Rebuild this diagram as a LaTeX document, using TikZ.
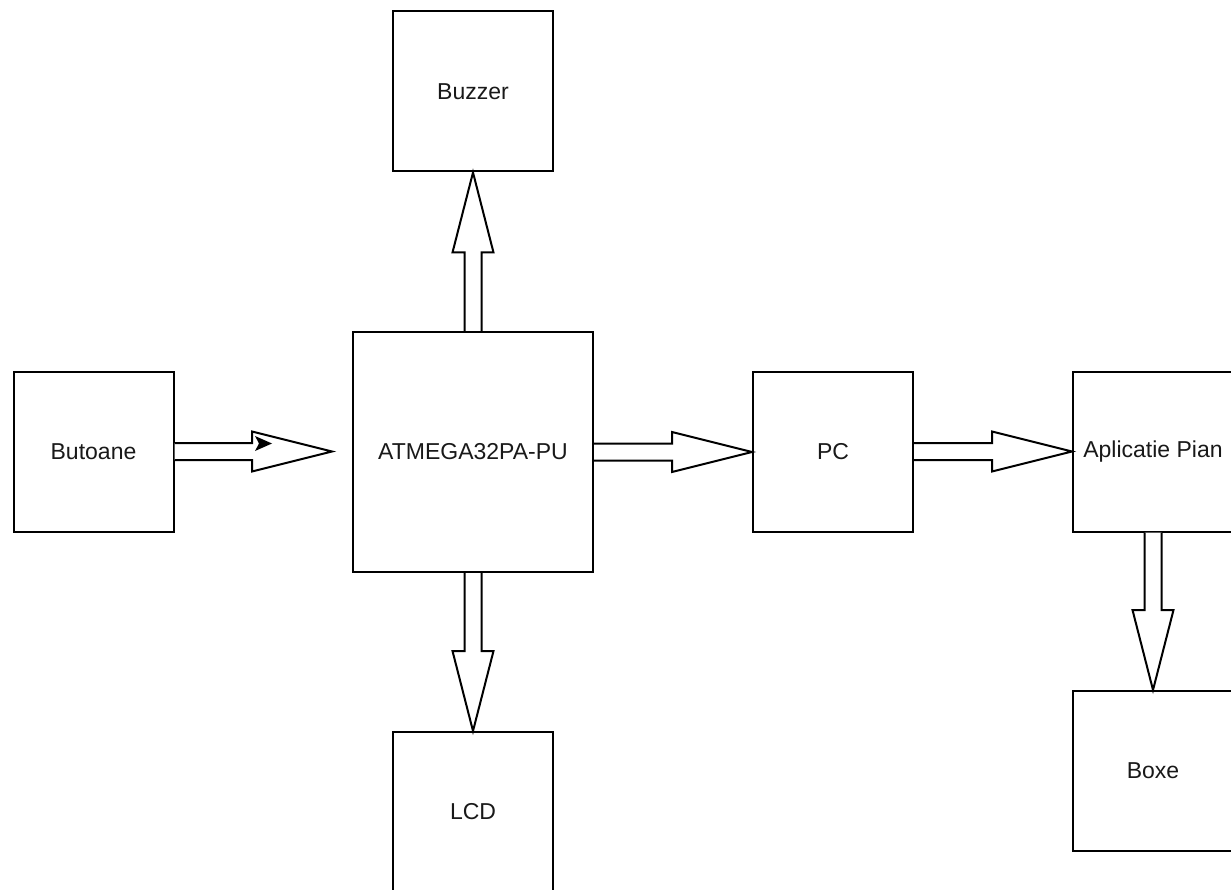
\documentclass[tikz,border=0pt]{standalone}
\usepackage{fontspec}
\setmainfont{Liberation Sans}
\usetikzlibrary{calc}
\tikzset{
  blk/.style={draw=black, line width=2pt, fill=white, minimum width=160pt, minimum height=160pt, inner sep=0pt, text=black!90, font=\fontsize{23pt}{28pt}\selectfont},
  flexline/.style={draw=black, line width=2pt, fill=white, line join=miter}
}
\newcommand\harrow[2]{%
  \draw[flexline] let \p1=(#1), \p2=(#2) in
    (\x1,\y1+8.5pt) -- (\x2-80pt,\y1+8.5pt) -- (\x2-80pt,\y1+20pt) -- (\x2,\y1)
    -- (\x2-80pt,\y1-20pt) -- (\x2-80pt,\y1-8.5pt) -- (\x1,\y1-8.5pt);}
% #3 = +1 for arrow pointing down, -1 for arrow pointing up
\newcommand\varrow[3]{%
  \draw[flexline] let \p1=(#1), \p2=(#2) in
    (\x1-8.5pt,\y1) -- (\x1-8.5pt,\y2+#3*80pt) -- (\x1-20.5pt,\y2+#3*80pt) -- (\x1,\y2)
    -- (\x1+20.5pt,\y2+#3*80pt) -- (\x1+8.5pt,\y2+#3*80pt) -- (\x1+8.5pt,\y1);}
\begin{document}
\begin{tikzpicture}[x=1pt,y=1pt]
\useasboundingbox (0,0) rectangle (1231,-890);
\node[blk] (buz) at (473,-91.5) {Buzzer};
\node[blk] (but) at (93.5,-451.5) {Butoane};
\node[blk, minimum width=240pt, minimum height=240pt] (atm) at (473,-452) {ATMEGA32PA-PU};
\node[blk] (pc) at (833,-451.5) {PC};
\node[blk] (app) at (1153,-451.5) {Aplicatie Pian};
\node[blk] (box) at (1153,-771) {Boxe};
\node[blk] (lcd) at (473,-812) {LCD};
\coordinate (atmin) at ($(atm.west)+(-20,0)$);
\harrow{but.east}{atmin}
\fill[black] (255,-436) -- (272,-443.5) -- (255,-451) -- (259,-443.5) -- cycle;
\harrow{atm.east}{pc.west}
\harrow{pc.east}{app.west}
\varrow{atm.north}{buz.south}{-1}
\varrow{atm.south}{lcd.north}{1}
\varrow{app.south}{box.north}{1}
\end{tikzpicture}
\end{document}
